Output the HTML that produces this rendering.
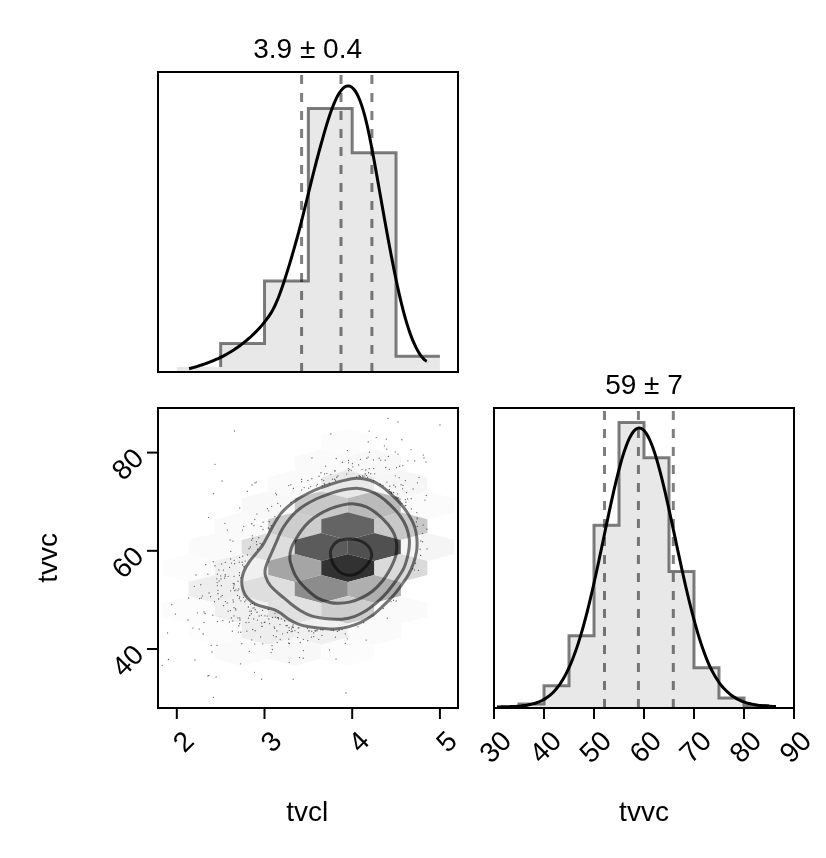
<!DOCTYPE html>
<html lang="en"><head><meta charset="utf-8"><title>corner plot</title>
<style>html,body{margin:0;padding:0;background:#fff}svg{display:block;will-change:transform}text{font-family:"Liberation Sans", Arial, Helvetica, sans-serif;font-size:28px;fill:#000}</style></head><body>
<svg width="826" height="858" viewBox="0 0 826 858">
<rect width="826" height="858" fill="#fff"/>
<defs>
<clipPath id="cTL"><rect x="158" y="72" width="300" height="300"/></clipPath>
<clipPath id="cBL"><rect x="158" y="408" width="300" height="300"/></clipPath>
<clipPath id="cBR"><rect x="494" y="408" width="300" height="300"/></clipPath>
</defs>
<g clip-path="url(#cTL)">
<path d="M176.8 372L176.8 367 L220.65 367L220.65 343.4 L264.5 343.4L264.5 280.9 L308.35 280.9L308.35 108.5 L352.2 108.5L352.2 152.7 L396.05 152.7L396.05 356.3 L439.9 356.3L439.9 372Z" fill="#e8e8e8"/>
<path d="M220.65 367L220.65 343.4 L264.5 343.4L264.5 280.9 L308.35 280.9L308.35 108.5 L352.2 108.5L352.2 152.7 L396.05 152.7L396.05 356.3 L439.9 356.3" fill="none" stroke="#000" stroke-opacity="0.5" stroke-width="3" stroke-linejoin="miter"/>
<line x1="301.6" y1="372" x2="301.6" y2="72" stroke="#000" stroke-opacity="0.5" stroke-width="3" stroke-dasharray="9 9"/>
<line x1="341" y1="372" x2="341" y2="72" stroke="#000" stroke-opacity="0.5" stroke-width="3" stroke-dasharray="9 9"/>
<line x1="371.9" y1="372" x2="371.9" y2="72" stroke="#000" stroke-opacity="0.5" stroke-width="3" stroke-dasharray="9 9"/>
<path d="M189.1 368.73C189.52 368.61 190.77 368.27 191.6 368.03C192.43 367.8 193.27 367.56 194.1 367.32C194.93 367.07 195.77 366.82 196.6 366.57C197.43 366.32 198.27 366.06 199.1 365.8C199.93 365.53 200.77 365.26 201.6 364.99C202.43 364.71 203.27 364.43 204.1 364.14C204.93 363.85 205.77 363.55 206.6 363.25C207.43 362.94 208.27 362.63 209.1 362.31C209.93 361.99 210.77 361.67 211.6 361.33C212.43 360.99 213.27 360.65 214.1 360.29C214.93 359.94 215.77 359.58 216.6 359.2C217.43 358.83 218.27 358.44 219.1 358.05C219.93 357.66 220.77 357.25 221.6 356.83C222.43 356.42 223.27 355.99 224.1 355.55C224.93 355.11 225.77 354.66 226.6 354.2C227.43 353.74 228.27 353.26 229.1 352.77C229.93 352.28 230.77 351.78 231.6 351.27C232.43 350.75 233.27 350.22 234.1 349.68C234.93 349.14 235.77 348.58 236.6 348.01C237.43 347.43 238.27 346.85 239.1 346.25C239.93 345.64 240.77 345.03 241.6 344.39C242.43 343.76 243.27 343.11 244.1 342.44C244.93 341.78 245.77 341.09 246.6 340.39C247.43 339.69 248.27 338.98 249.1 338.24C249.93 337.51 250.77 336.75 251.6 335.98C252.43 335.21 253.27 334.42 254.1 333.6C254.93 332.78 255.77 331.95 256.6 331.09C257.43 330.22 258.27 329.34 259.1 328.43C259.93 327.51 260.77 326.58 261.6 325.61C262.43 324.64 263.27 323.65 264.1 322.62C264.93 321.59 265.77 320.55 266.6 319.43C267.43 318.32 268.27 317.17 269.1 315.92C269.93 314.67 270.77 313.37 271.6 311.93C272.43 310.5 273.27 308.98 274.1 307.31C274.93 305.63 275.77 303.83 276.6 301.89C277.43 299.95 278.27 297.85 279.1 295.67C279.93 293.49 280.77 291.18 281.6 288.81C282.43 286.43 283.27 283.95 284.1 281.42C284.93 278.9 285.77 276.3 286.6 273.66C287.43 271.01 288.27 268.31 289.1 265.57C289.93 262.82 290.77 260.03 291.6 257.2C292.43 254.38 293.27 251.51 294.1 248.6C294.93 245.68 295.77 242.73 296.6 239.72C297.43 236.7 298.27 233.64 299.1 230.52C299.93 227.39 300.77 224.2 301.6 220.95C302.43 217.7 303.27 214.35 304.1 210.99C304.93 207.63 305.77 204.18 306.6 200.76C307.43 197.34 308.27 193.88 309.1 190.48C309.93 187.07 310.77 183.66 311.6 180.31C312.43 176.96 313.27 173.64 314.1 170.38C314.93 167.12 315.77 163.91 316.6 160.75C317.43 157.58 318.27 154.47 319.1 151.39C319.93 148.31 320.77 145.27 321.6 142.27C322.43 139.28 323.27 136.29 324.1 133.4C324.93 130.5 325.77 127.64 326.6 124.91C327.43 122.17 328.27 119.51 329.1 116.99C329.93 114.48 330.77 112.07 331.6 109.82C332.43 107.56 333.27 105.42 334.1 103.44C334.93 101.47 335.77 99.62 336.6 97.95C337.43 96.28 338.27 94.75 339.1 93.4C339.93 92.06 340.77 90.87 341.6 89.87C342.43 88.88 343.27 88.05 344.1 87.42C344.93 86.8 345.77 86.35 346.6 86.11C347.43 85.87 348.27 85.83 349.1 85.99C349.93 86.16 350.77 86.52 351.6 87.11C352.43 87.7 353.27 88.5 354.1 89.52C354.93 90.55 355.77 91.8 356.6 93.29C357.43 94.77 358.27 96.49 359.1 98.46C359.93 100.43 360.77 102.64 361.6 105.11C362.43 107.59 363.27 110.31 364.1 113.31C364.93 116.31 365.77 119.6 366.6 123.12C367.43 126.64 368.27 130.46 369.1 134.42C369.93 138.39 370.77 142.61 371.6 146.93C372.43 151.24 373.27 155.75 374.1 160.3C374.93 164.86 375.77 169.56 376.6 174.24C377.43 178.93 378.27 183.7 379.1 188.43C379.93 193.15 380.77 197.9 381.6 202.62C382.43 207.33 383.27 212.05 384.1 216.71C384.93 221.38 385.77 226.03 386.6 230.61C387.43 235.19 388.27 239.74 389.1 244.21C389.93 248.67 390.77 253.09 391.6 257.4C392.43 261.72 393.27 265.96 394.1 270.09C394.93 274.22 395.77 278.27 396.6 282.18C397.43 286.09 398.27 289.91 399.1 293.57C399.93 297.23 400.77 300.77 401.6 304.15C402.43 307.52 403.27 310.75 404.1 313.82C404.93 316.9 405.77 319.81 406.6 322.58C407.43 325.34 408.27 327.95 409.1 330.42C409.93 332.88 410.77 335.2 411.6 337.37C412.43 339.54 413.27 341.56 414.1 343.44C414.93 345.32 415.77 347.05 416.6 348.65C417.43 350.25 418.27 351.7 419.1 353.02C419.93 354.34 420.77 355.51 421.6 356.56C422.43 357.61 423.27 358.51 424.1 359.29C424.93 360.07 426.17 360.9 426.6 361.23C427.03 361.57 426.68 361.29 426.7 361.3" fill="none" stroke="#000" stroke-width="3" stroke-linejoin="round"/>
</g>
<g clip-path="url(#cBR)">
<path d="M519 708L519 704 L544 704L544 685.7 L569 685.7L569 635.7 L594 635.7L594 525.3 L619 525.3L619 422.4 L644 422.4L644 457.8 L669 457.8L669 571.5 L694 571.5L694 667.8 L719 667.8L719 698 L744 698L744 705.5 L769 705.5L769 708Z" fill="#e8e8e8"/>
<path d="M519 707L519 704 L544 704L544 685.7 L569 685.7L569 635.7 L594 635.7L594 525.3 L619 525.3L619 422.4 L644 422.4L644 457.8 L669 457.8L669 571.5 L694 571.5L694 667.8 L719 667.8L719 698 L744 698L744 705.5 L769 705.5" fill="none" stroke="#000" stroke-opacity="0.5" stroke-width="3" stroke-linejoin="miter"/>
<line x1="604.5" y1="708" x2="604.5" y2="408" stroke="#000" stroke-opacity="0.5" stroke-width="3" stroke-dasharray="9 9"/>
<line x1="638.4" y1="708" x2="638.4" y2="408" stroke="#000" stroke-opacity="0.5" stroke-width="3" stroke-dasharray="9 9"/>
<line x1="673.3" y1="708" x2="673.3" y2="408" stroke="#000" stroke-opacity="0.5" stroke-width="3" stroke-dasharray="9 9"/>
<path d="M497 706.91C497.5 706.91 499 706.89 500 706.88C501 706.86 502 706.85 503 706.83C504 706.81 505 706.79 506 706.76C507 706.74 508 706.71 509 706.67C510 706.64 511 706.6 512 706.56C513 706.51 514 706.46 515 706.4C516 706.34 517 706.28 518 706.2C519 706.12 520 706.03 521 705.93C522 705.83 523 705.72 524 705.59C525 705.46 526 705.31 527 705.15C528 704.98 529 704.8 530 704.58C531 704.37 532 704.14 533 703.87C534 703.61 535 703.32 536 702.98C537 702.65 538 702.29 539 701.88C540 701.47 541 701.02 542 700.52C543 700.01 544 699.46 545 698.85C546 698.23 547 697.57 548 696.83C549 696.08 550 695.28 551 694.39C552 693.5 553 692.54 554 691.49C555 690.43 556 689.29 557 688.05C558 686.8 559 685.47 560 684.02C561 682.56 562 681.01 563 679.32C564 677.64 565 675.85 566 673.91C567 671.98 568 669.93 569 667.73C570 665.53 571 663.2 572 660.72C573 658.24 574 655.62 575 652.85C576 650.08 577 647.16 578 644.09C579 641.02 580 637.81 581 634.44C582 631.08 583 627.57 584 623.91C585 620.26 586 616.46 587 612.54C588 608.62 589 604.55 590 600.37C591 596.2 592 591.89 593 587.51C594 583.12 595 578.61 596 574.04C597 569.48 598 564.81 599 560.12C600 555.43 601 550.66 602 545.9C603 541.14 604 536.33 605 531.57C606 526.8 607 522.02 608 517.33C609 512.63 610 507.95 611 503.4C612 498.85 613 494.34 614 490.01C615 485.68 616 481.44 617 477.4C618 473.36 619 469.46 620 465.79C621 462.13 622 458.63 623 455.41C624 452.19 625 449.18 626 446.46C627 443.75 628 441.28 629 439.13C630 436.98 631 435.1 632 433.56C633 432.01 634 430.77 635 429.87C636 428.96 637 428.38 638 428.13C639 427.89 640 427.98 641 428.39C642 428.79 643 429.53 644 430.57C645 431.61 646 432.98 647 434.64C648 436.29 649 438.27 650 440.5C651 442.73 652 445.27 653 448.04C654 450.81 655 453.86 656 457.11C657 460.36 658 463.86 659 467.53C660 471.2 661 475.09 662 479.1C663 483.12 664 487.33 665 491.62C666 495.91 667 500.36 668 504.85C669 509.35 670 513.97 671 518.59C672 523.22 673 527.92 674 532.61C675 537.29 676 542.02 677 546.7C678 551.38 679 556.07 680 560.67C681 565.28 682 569.87 683 574.35C684 578.84 685 583.27 686 587.59C687 591.9 688 596.14 689 600.24C690 604.35 691 608.35 692 612.22C693 616.08 694 619.83 695 623.43C696 627.03 697 630.51 698 633.83C699 637.15 700 640.34 701 643.38C702 646.42 703 649.31 704 652.06C705 654.81 706 657.44 707 659.89C708 662.34 709 664.64 710 666.76C711 668.88 712 670.77 713 672.61C714 674.44 715 676.14 716 677.75C717 679.36 718 680.86 719 682.26C720 683.67 721 684.96 722 686.18C723 687.4 724 688.52 725 689.57C726 690.62 727 691.58 728 692.47C729 693.37 730 694.19 731 694.96C732 695.72 733 696.41 734 697.06C735 697.71 736 698.29 737 698.84C738 699.38 739 699.87 740 700.33C741 700.78 742 701.19 743 701.57C744 701.95 745 702.29 746 702.6C747 702.91 748 703.19 749 703.45C750 703.71 751 703.94 752 704.15C753 704.36 754 704.55 755 704.72C756 704.89 757 705.05 758 705.19C759 705.33 760 705.45 761 705.56C762 705.67 763 705.77 764 705.86C765 705.95 766 706.03 767 706.11C768 706.18 769 706.24 770 706.3C771 706.36 772 706.41 773 706.45C774 706.5 775.5 706.55 776 706.58" fill="none" stroke="#000" stroke-width="3" stroke-linejoin="round"/>
</g>
<g clip-path="url(#cBL)">
<g shape-rendering="geometricPrecision">
<polygon points="347.8,428.5 374.34,435.48 374.34,449.43 347.8,456.4 321.26,449.43 321.26,435.48" fill="rgb(252,252,252)"/>
<polygon points="321.26,449.43 347.8,456.4 347.8,470.35 321.26,477.32 294.72,470.35 294.72,456.4" fill="rgb(250,250,250)"/>
<polygon points="374.34,449.43 400.88,456.4 400.88,470.35 374.34,477.32 347.8,470.35 347.8,456.4" fill="rgb(248,248,248)"/>
<polygon points="294.72,470.35 321.26,477.32 321.26,491.28 294.72,498.25 268.18,491.28 268.18,477.32" fill="rgb(250,250,250)"/>
<polygon points="347.8,470.35 374.34,477.32 374.34,491.28 347.8,498.25 321.26,491.28 321.26,477.32" fill="rgb(232,232,232)"/>
<polygon points="400.88,470.35 427.42,477.32 427.42,491.28 400.88,498.25 374.34,491.28 374.34,477.32" fill="rgb(246,246,246)"/>
<polygon points="268.18,491.28 294.72,498.25 294.72,512.2 268.18,519.18 241.64,512.2 241.64,498.25" fill="rgb(248,248,248)"/>
<polygon points="321.26,491.28 347.8,498.25 347.8,512.2 321.26,519.18 294.72,512.2 294.72,498.25" fill="rgb(200,200,200)"/>
<polygon points="374.34,491.28 400.88,498.25 400.88,512.2 374.34,519.18 347.8,512.2 347.8,498.25" fill="rgb(186,186,186)"/>
<polygon points="427.42,491.28 453.96,498.25 453.96,512.2 427.42,519.18 400.88,512.2 400.88,498.25" fill="rgb(251,251,251)"/>
<polygon points="241.64,512.2 268.18,519.17 268.18,533.12 241.64,540.1 215.1,533.12 215.1,519.17" fill="rgb(250,250,250)"/>
<polygon points="294.72,512.2 321.26,519.17 321.26,533.12 294.72,540.1 268.18,533.12 268.18,519.17" fill="rgb(205,205,205)"/>
<polygon points="347.8,512.2 374.34,519.17 374.34,533.12 347.8,540.1 321.26,533.12 321.26,519.17" fill="rgb(100,100,100)"/>
<polygon points="400.88,512.2 427.42,519.17 427.42,533.12 400.88,540.1 374.34,533.12 374.34,519.17" fill="rgb(200,200,200)"/>
<polygon points="215.1,533.12 241.64,540.1 241.64,554.05 215.1,561.03 188.56,554.05 188.56,540.1" fill="rgb(250,250,250)"/>
<polygon points="268.18,533.12 294.72,540.1 294.72,554.05 268.18,561.03 241.64,554.05 241.64,540.1" fill="rgb(222,222,222)"/>
<polygon points="321.26,533.12 347.8,540.1 347.8,554.05 321.26,561.03 294.72,554.05 294.72,540.1" fill="rgb(91,91,91)"/>
<polygon points="374.34,533.12 400.88,540.1 400.88,554.05 374.34,561.03 347.8,554.05 347.8,540.1" fill="rgb(80,80,80)"/>
<polygon points="427.42,533.12 453.96,540.1 453.96,554.05 427.42,561.03 400.88,554.05 400.88,540.1" fill="rgb(245,245,245)"/>
<polygon points="188.56,554.05 215.1,561.02 215.1,574.98 188.56,581.95 162.02,574.98 162.02,561.02" fill="rgb(252,252,252)"/>
<polygon points="241.64,554.05 268.18,561.02 268.18,574.98 241.64,581.95 215.1,574.98 215.1,561.02" fill="rgb(240,240,240)"/>
<polygon points="294.72,554.05 321.26,561.02 321.26,574.98 294.72,581.95 268.18,574.98 268.18,561.02" fill="rgb(165,165,165)"/>
<polygon points="347.8,554.05 374.34,561.02 374.34,574.98 347.8,581.95 321.26,574.98 321.26,561.02" fill="rgb(50,50,50)"/>
<polygon points="400.88,554.05 427.42,561.02 427.42,574.98 400.88,581.95 374.34,574.98 374.34,561.02" fill="rgb(218,218,218)"/>
<polygon points="215.1,574.97 241.64,581.95 241.64,595.9 215.1,602.88 188.56,595.9 188.56,581.95" fill="rgb(238,238,238)"/>
<polygon points="268.18,574.97 294.72,581.95 294.72,595.9 268.18,602.88 241.64,595.9 241.64,581.95" fill="rgb(222,222,222)"/>
<polygon points="321.26,574.97 347.8,581.95 347.8,595.9 321.26,602.88 294.72,595.9 294.72,581.95" fill="rgb(140,140,140)"/>
<polygon points="374.34,574.97 400.88,581.95 400.88,595.9 374.34,602.88 347.8,595.9 347.8,581.95" fill="rgb(175,175,175)"/>
<polygon points="188.56,595.9 215.1,602.88 215.1,616.83 188.56,623.8 162.02,616.83 162.02,602.88" fill="rgb(252,252,252)"/>
<polygon points="241.64,595.9 268.18,602.88 268.18,616.83 241.64,623.8 215.1,616.83 215.1,602.88" fill="rgb(240,240,240)"/>
<polygon points="294.72,595.9 321.26,602.88 321.26,616.83 294.72,623.8 268.18,616.83 268.18,602.88" fill="rgb(225,225,225)"/>
<polygon points="347.8,595.9 374.34,602.88 374.34,616.83 347.8,623.8 321.26,616.83 321.26,602.88" fill="rgb(205,205,205)"/>
<polygon points="400.88,595.9 427.42,602.88 427.42,616.83 400.88,623.8 374.34,616.83 374.34,602.88" fill="rgb(250,250,250)"/>
<polygon points="215.1,616.82 241.64,623.8 241.64,637.75 215.1,644.73 188.56,637.75 188.56,623.8" fill="rgb(252,252,252)"/>
<polygon points="268.18,616.82 294.72,623.8 294.72,637.75 268.18,644.73 241.64,637.75 241.64,623.8" fill="rgb(238,238,238)"/>
<polygon points="321.26,616.82 347.8,623.8 347.8,637.75 321.26,644.73 294.72,637.75 294.72,623.8" fill="rgb(240,240,240)"/>
<polygon points="374.34,616.82 400.88,623.8 400.88,637.75 374.34,644.73 347.8,637.75 347.8,623.8" fill="rgb(250,250,250)"/>
<polygon points="241.64,637.75 268.18,644.73 268.18,658.68 241.64,665.65 215.1,658.68 215.1,644.73" fill="rgb(250,250,250)"/>
<polygon points="294.72,637.75 321.26,644.73 321.26,658.68 294.72,665.65 268.18,658.68 268.18,644.73" fill="rgb(248,248,248)"/>
<polygon points="347.8,637.75 374.34,644.73 374.34,658.68 347.8,665.65 321.26,658.68 321.26,644.73" fill="rgb(252,252,252)"/>
</g>
<path d="M228.06 611.16h0M313.71 632.93h0M366.21 640.09h0M217.13 582.54h0M288.76 485.61h0M330.86 474.28h0M370.76 473.75h0M286.13 625.72h0M411.22 498.72h0M247.31 491.41h0M299.57 657.59h0M284.89 621.12h0M242.1 562.25h0M358.98 475.97h0M278.45 618.91h0M249.81 611.25h0M261.69 622.97h0M215.01 464.32h0M252.19 603.33h0M261.03 526.47h0M290.91 502.46h0M162.22 665.33h0M248.46 618.18h0M264.4 622.47h0M337.94 475.89h0M240.76 632.26h0M255.13 630.75h0M373.83 468.51h0M349.73 469.33h0M348.63 470.54h0M244.17 566.3h0M315.14 630.41h0M426.93 529.19h0M329.22 483.06h0M348.5 460.5h0M232.74 620.93h0M209 675.34h0M207.89 574.21h0M284.62 620.3h0M316.85 630.74h0M211.18 645.34h0M221.07 578.89h0M230.41 610.61h0M204.01 622.46h0M256.75 544.72h0M335.3 470.92h0M386.3 439.22h0M264.95 615.8h0M363.79 622.77h0M224.67 578.21h0M271.17 525.69h0M245.9 600.07h0M201.39 598.03h0M396.17 600.99h0M282.61 633.86h0M307.86 480.43h0M274.62 628.31h0M289.24 662.41h0M241.79 643.7h0M223.49 570.03h0M405.88 505.55h0M397.57 493.96h0M240 620h0M329.54 649.88h0M220.96 596.84h0M257.54 549.16h0M336.06 659.08h0M175.39 614.08h0M225.32 574.67h0M225.43 601.57h0M311.85 478.77h0M233.7 587.07h0M399.15 477.65h0M274.9 613.31h0M239.75 507.96h0M231.52 563.05h0M256.94 514.03h0M365.82 470.01h0M292.17 627.01h0M352.87 466.78h0M200.76 584.75h0M316.98 629.89h0M203.13 634.02h0M245.16 561.08h0M322.83 630.02h0M254.07 607.87h0M231.44 617.9h0M234.48 583.83h0M386.78 449.13h0M234.19 560.36h0M188.75 598h0M292.44 631.16h0M307.82 640.65h0M358.61 464.96h0M362 469.6h0M274.85 516.61h0M293.08 624.97h0M324.27 483.6h0M426.25 495.52h0M298.28 632.65h0M411.43 508.92h0M391.09 601.58h0M249.75 615.52h0M261.63 679.14h0M288.77 639.15h0M269.13 521.77h0M308.66 630.9h0M276.86 630.9h0M380.66 460.04h0M238.82 625.75h0M365.27 474.01h0M249.26 651.43h0M233.44 588.31h0M360.37 476.69h0M253.63 619.01h0M224.95 523.36h0M217.02 645.4h0M230.67 559.01h0M243.72 526.34h0M277.47 617.59h0M417.29 526.46h0M310.74 486.62h0M267.31 616.1h0M229.56 567.29h0M234.62 563.75h0M240.93 600.8h0M199.6 598.56h0M313.7 636.58h0M420.61 555.44h0M275.45 617.16h0M315.05 630.55h0M368.58 472.74h0M423.31 455.09h0M337.4 631.42h0M257.47 620.07h0M359.81 476.35h0M324.56 473.9h0M233.34 601.94h0M240.61 663.85h0M271.08 652.58h0M274.21 626.98h0M390.15 491.68h0M414.79 460.89h0M417.43 482.78h0M402.02 503.31h0M382.98 485.35h0M217.42 574.17h0M217.42 621.54h0M260.58 636.89h0M405.39 499.56h0M351.24 470.33h0M416.79 512.57h0M357.93 626.84h0M395.39 486.89h0M373.73 480.6h0M217.94 590.28h0M214.51 601.63h0M252.31 535.8h0M388.07 418.47h0M326.95 473.31h0M407.54 498.93h0M395.26 451.91h0M405.4 480.58h0M334.66 479.27h0M268.32 528.02h0M385.25 460.16h0M301.67 479.44h0M221.69 563.98h0M277.85 503.41h0M287.32 632.52h0M218.79 569.96h0M348.27 468.72h0M391.71 492.36h0M366.54 475.37h0M260.15 543.29h0M415.55 563.23h0M221.41 585.72h0M300.27 642.52h0M407.89 460.86h0M374.7 473.83h0M271.66 506.34h0M417.22 517.78h0M235.92 589.79h0M246.85 631.16h0M406.52 492.66h0M205.68 564.61h0M197.4 612.8h0M255.33 609.64h0M391.57 492.52h0M293.33 627.6h0M272.4 617.38h0M393.8 485.21h0M205.12 613.48h0M209.03 593.02h0M424.98 500.1h0M276.13 636.73h0M213.23 561.66h0M239.55 557.42h0M338.84 630.57h0M321.91 635.4h0M275.68 493.06h0M240.94 577.79h0M256.44 541.76h0M194.36 586.32h0M222.31 595.42h0M251.31 613.76h0M321.76 479.68h0M420.13 549.25h0M219.1 580.91h0M217.37 585.57h0M401.07 484.65h0M333.23 630.49h0M336.21 458.49h0M388.28 456.41h0M387.29 618.16h0M416.41 521.91h0M342.1 629.62h0M171.81 604.68h0M420.75 540.98h0M212.84 615.21h0M280.22 639.62h0M325.71 466.22h0M237.99 617.88h0M272 645.72h0M401.84 439.73h0M319 476.25h0M232.35 631.19h0M279.99 624.56h0M334.57 470.95h0M336.77 477.23h0M346.72 474.11h0M273.45 635.62h0M218.7 599h0M411.08 449.54h0M239.65 623.71h0M254.81 519.56h0M239.45 572.65h0M366.9 458.27h0M223.62 605.66h0M238.02 581.24h0M230.11 540.02h0M307.42 628.55h0M291.3 631.63h0M396.46 467.65h0M301.7 489.92h0M385.75 467.52h0M368.19 457.03h0M239.29 562.14h0M413.11 489.01h0M297.66 637.55h0M419.06 477.46h0M167.57 632.89h0M237.91 590.54h0M237.51 595.39h0M386.96 482.1h0M301.64 481.7h0M234.63 590.63h0M220.73 575.89h0M287.13 625.49h0M405.23 505.33h0M317.37 484.36h0M304.13 487.56h0M384.41 445.83h0M242.68 564.99h0M238.78 588.96h0M235.61 608.57h0M228.16 576.29h0M303.26 658.13h0M303.43 650.57h0M376.22 437.54h0M243.4 597.36h0M373.49 459.91h0M347.2 638.79h0M216.1 677.02h0M232.96 541.22h0M348.49 462.8h0M168.41 659.51h0M427.1 548.95h0M263.16 522.21h0M253.95 525.69h0M417.2 518.87h0M263 529.52h0M276.45 494.76h0M250.33 547.01h0M265.01 622.1h0M210.55 596.63h0M214.98 565.77h0M218.01 593.73h0M259.19 615.98h0M202.45 595.89h0M294.91 630.66h0M239.17 598.51h0M254.96 482.97h0M262.75 643.86h0M261.73 626.19h0M320.96 472.75h0M248.37 606.98h0M269.56 623.72h0M268.79 510.87h0M281.47 618.85h0M389.75 486.21h0M356.42 477.07h0M347.43 450.55h0M268.14 609.5h0M369.47 452.22h0M291.61 628.9h0M225.05 576.26h0M249.05 548.75h0M256.96 612.44h0M383.25 608.42h0M331.11 630.12h0M311.69 631.13h0M251.7 540.16h0M233.18 583.47h0M288.57 643.11h0M234.02 576.36h0M250.59 604.14h0M234.04 615.96h0M252.69 538.44h0M272.32 649.48h0M227.3 530.12h0M397.33 498.18h0M254.48 672.31h0M258.78 537.76h0M308.63 488.14h0M402.57 488.86h0M422.69 541.71h0M233.98 607.67h0M318.7 639.29h0M352.43 463.66h0M342.41 462.26h0M380.17 484.25h0M247.5 554.92h0M233.03 599.92h0M293.37 488.46h0M239.48 575.48h0M403.07 485.45h0M261.59 544.09h0M290.83 484.8h0M298.94 627.68h0M252.68 629.5h0M213.37 697.37h0M251.72 523.77h0M235.86 610.02h0M242.73 556.21h0M368.22 441.92h0M311.94 457.96h0M335.45 637.17h0M239.59 596.93h0M320.85 629.65h0M257.15 612.12h0M222.85 620.56h0M230.62 590.83h0M311.49 637.09h0M379.13 458.17h0M280.54 505.98h0M289.44 643.52h0M216.73 578.81h0M402.8 465.7h0M277.25 642.58h0M335.59 480.29h0M362.51 476.02h0M261.42 615.31h0M262.2 626.39h0M345.29 633.9h0M309.35 630.8h0M256.27 482.16h0M393.53 600.26h0M278.41 617.76h0M303.31 639.37h0M267.45 508.67h0M298.16 628.06h0M208.48 517.36h0M369.31 468.65h0M292.9 626.79h0M316.33 485.81h0M253 608.1h0M395.26 475.79h0M389.28 489.76h0M289.38 630.43h0M393.66 492.5h0M398.18 497.93h0M315.31 631.18h0M246.02 622.51h0M369.14 431.06h0M324.81 484.56h0M360.42 459.31h0M396.16 496.89h0M359.24 475.54h0M412.66 568.63h0M238.32 632.1h0M239.75 617.93h0M230.78 551.39h0M268.86 618.99h0M345.24 643.46h0M414.48 570.04h0M398 454.16h0M227.22 602.94h0M251.4 611.01h0M367.5 477.33h0M289.02 627.68h0M262.55 610.29h0M192.94 628.1h0M242.4 530.04h0M225.3 562.41h0M332.52 479.13h0M254.56 604.92h0M254.77 644.05h0M389.42 469.33h0M229.42 622h0M422.48 533.31h0M405.92 502.24h0M364.04 476.12h0M293.23 679.14h0M323.66 480.56h0M248.96 622.29h0M399.66 466.26h0M339.19 630.24h0M243.88 566.96h0M199.2 629.05h0M213.69 493.65h0M418.44 570.36h0M423.25 525.04h0M244.78 601.7h0M391.6 493.26h0M269.26 528.82h0M233.99 584.96h0M322.16 485.82h0M251.76 639.97h0M330.85 434.01h0M234.5 431h0M398 422h0M440 425h0M222 481h0M252 485h0M346 693h0M208 676h0M195 660h0M212 652h0M196 575h0M188 620h0M204 612h0M424 458h0M426 462h0" fill="none" stroke="#000" stroke-opacity="0.62" stroke-width="1.3" stroke-linecap="round"/>
<path d="M244.5 570C245.82 567.17 248.08 563.55 250 560.8C251.92 558.05 253.88 556.12 256 553.5C258.12 550.88 260.58 548.32 262.7 545.1C264.82 541.88 266.78 537.73 268.7 534.2C270.62 530.67 272.18 527.33 274.2 523.9C276.22 520.47 278.48 516.53 280.8 513.6C283.12 510.67 285.27 508.72 288.1 506.3C290.93 503.88 294.37 501.32 297.8 499.1C301.23 496.88 305.07 494.82 308.7 493C312.33 491.18 316.05 489.62 319.6 488.2C323.15 486.78 326.25 485.72 330 484.5C333.75 483.28 337.67 481.95 342.1 480.9C346.53 479.85 351.95 478.3 356.6 478.2C361.25 478.1 365.97 479.05 370 480.3C374.03 481.55 377.38 483.48 380.8 485.7C384.22 487.92 387.27 490.67 390.5 493.6C393.73 496.53 397.17 499.77 400.2 503.3C403.23 506.83 406.28 510.87 408.7 514.8C411.12 518.73 413.33 522.87 414.7 526.9C416.07 530.93 416.58 534.97 416.9 539C417.22 543.03 417.17 547.07 416.6 551.1C416.03 555.13 414.82 559.35 413.5 563.2C412.18 567.05 410.72 570.55 408.7 574.2C406.68 577.85 404.02 581.47 401.4 585.1C398.78 588.73 396.02 592.57 393 596C389.98 599.43 386.73 602.47 383.3 605.7C379.87 608.93 376.23 612.58 372.4 615.4C368.57 618.22 364.33 620.68 360.3 622.6C356.27 624.52 352.03 625.88 348.2 626.9C344.37 627.92 340.33 628.37 337.3 628.7C334.27 629.03 333.15 629 330 628.9C326.85 628.8 322.15 628.5 318.4 628.1C314.65 627.7 310.93 627.22 307.5 626.5C304.07 625.78 300.83 624.95 297.8 623.8C294.77 622.65 291.92 621.2 289.3 619.6C286.68 618 284.52 615.82 282.1 614.2C279.68 612.58 277.43 611.02 274.8 609.9C272.17 608.78 269.13 608.3 266.3 607.5C263.47 606.7 260.42 606.22 257.8 605.1C255.18 603.98 252.72 602.52 250.6 600.8C248.48 599.08 246.52 597.22 245.1 594.8C243.68 592.38 242.6 589.13 242.1 586.3C241.6 583.47 241.7 580.52 242.1 577.8C242.5 575.08 243.18 572.83 244.5 570Z" fill="none" stroke="#000" stroke-opacity="0.53" stroke-width="3" stroke-linejoin="round"/>
<path d="M265.1 570C265.4 567.57 266.38 564.95 267.5 562C268.62 559.05 270.28 555.73 271.8 552.3C273.32 548.87 275.1 544.83 276.6 541.4C278.1 537.97 279.08 534.92 280.8 531.7C282.52 528.48 284.47 525.32 286.9 522.1C289.33 518.88 292.37 515.23 295.4 512.4C298.43 509.57 301.47 507.42 305.1 505.1C308.73 502.78 313.05 500.42 317.2 498.5C321.35 496.58 325.85 495.02 330 493.6C334.15 492.18 337.67 490.9 342.1 490C346.53 489.1 352.17 488.1 356.6 488.2C361.03 488.3 364.87 489.3 368.7 490.6C372.53 491.9 375.97 493.58 379.6 496C383.23 498.42 387.07 501.77 390.5 505.1C393.93 508.43 397.57 512.37 400.2 516C402.83 519.63 404.78 523.07 406.3 526.9C407.82 530.73 408.9 534.97 409.3 539C409.7 543.03 409.3 547.07 408.7 551.1C408.1 555.13 406.72 559.95 405.7 563.2C404.68 566.45 404.32 567.55 402.6 570.6C400.88 573.65 398.02 577.87 395.4 581.5C392.78 585.13 389.93 588.97 386.9 592.4C383.87 595.83 380.63 599.08 377.2 602.1C373.77 605.12 370.13 608.08 366.3 610.5C362.47 612.92 358.23 615.15 354.2 616.6C350.17 618.05 346.13 618.8 342.1 619.2C338.07 619.6 333.75 619.23 330 619C326.25 618.77 322.95 618.4 319.6 617.8C316.25 617.2 313.13 616.62 309.9 615.4C306.67 614.18 303.23 612.32 300.2 610.5C297.17 608.68 294.32 606.52 291.7 604.5C289.08 602.48 286.92 600.42 284.5 598.4C282.08 596.38 279.62 594.62 277.2 592.4C274.78 590.18 271.92 587.73 270 585.1C268.08 582.47 266.52 579.12 265.7 576.6C264.88 574.08 264.8 572.43 265.1 570Z" fill="none" stroke="#000" stroke-opacity="0.53" stroke-width="3" stroke-linejoin="round"/>
<path d="M293 570C292.08 567.37 290.22 563.15 289.9 559.6C289.58 556.05 290.08 552.13 291.1 548.7C292.12 545.27 294.28 542.03 296 539C297.72 535.97 299.28 533.32 301.4 530.5C303.52 527.68 305.87 524.72 308.7 522.1C311.53 519.48 314.85 517 318.4 514.8C321.95 512.6 326.05 510.52 330 508.9C333.95 507.28 338.07 505.93 342.1 505.1C346.13 504.27 350.17 503.6 354.2 503.9C358.23 504.2 362.27 505.08 366.3 506.9C370.33 508.72 374.77 511.87 378.4 514.8C382.03 517.73 385.47 521.27 388.1 524.5C390.73 527.73 392.78 530.98 394.2 534.2C395.62 537.42 396.3 540.38 396.6 543.8C396.9 547.22 396.6 551.47 396 554.7C395.4 557.93 394.12 560.55 393 563.2C391.88 565.85 391.12 567.55 389.3 570.6C387.48 573.65 384.92 578.07 382.1 581.5C379.28 584.93 375.83 588.48 372.4 591.2C368.97 593.92 365.33 595.98 361.5 597.8C357.67 599.62 353.23 601.18 349.4 602.1C345.57 603.02 341.73 603.23 338.5 603.3C335.27 603.37 333.55 603.42 330 602.5C326.45 601.58 320.75 599.68 317.2 597.8C313.65 595.92 311.33 593.52 308.7 591.2C306.07 588.88 303.62 586.53 301.4 583.9C299.18 581.27 296.8 577.72 295.4 575.4C294 573.08 293.92 572.63 293 570Z" fill="none" stroke="#000" stroke-opacity="0.53" stroke-width="3" stroke-linejoin="round"/>
<path d="M330.4 553.5C330.4 551.33 330.65 549.48 331.8 547.5C332.95 545.52 335.35 542.93 337.3 541.6C339.25 540.27 341.28 539.93 343.5 539.5C345.72 539.07 348.35 538.93 350.6 539C352.85 539.07 354.98 539.4 357 539.9C359.02 540.4 361.03 541.15 362.7 542C364.37 542.85 365.78 543.88 367 545C368.22 546.12 369.2 547.08 370 548.7C370.8 550.32 371.7 552.9 371.8 554.7C371.9 556.5 371.52 557.67 370.6 559.5C369.68 561.33 368.22 563.55 366.3 565.7C364.38 567.85 361.72 570.8 359.1 572.4C356.48 574 353.43 575.12 350.6 575.3C347.77 575.48 344.63 574.78 342.1 573.5C339.57 572.22 337.12 569.77 335.4 567.6C333.68 565.43 332.63 562.85 331.8 560.5C330.97 558.15 330.4 555.67 330.4 553.5Z" fill="none" stroke="#000" stroke-opacity="0.53" stroke-width="3" stroke-linejoin="round"/>
</g>
<rect x="158" y="72" width="300" height="300" fill="none" stroke="#000" stroke-width="2"/>
<rect x="158" y="408" width="300" height="300" fill="none" stroke="#000" stroke-width="2"/>
<rect x="494" y="408" width="300" height="300" fill="none" stroke="#000" stroke-width="2"/>
<line x1="176.8" y1="709" x2="176.8" y2="719" stroke="#000" stroke-width="2"/>
<text transform="translate(183 741.2) rotate(-45)" x="0" y="10" text-anchor="middle">2</text>
<line x1="264.5" y1="709" x2="264.5" y2="719" stroke="#000" stroke-width="2"/>
<text transform="translate(270.7 741.2) rotate(-45)" x="0" y="10" text-anchor="middle">3</text>
<line x1="352.2" y1="709" x2="352.2" y2="719" stroke="#000" stroke-width="2"/>
<text transform="translate(358.4 741.2) rotate(-45)" x="0" y="10" text-anchor="middle">4</text>
<line x1="439.9" y1="709" x2="439.9" y2="719" stroke="#000" stroke-width="2"/>
<text transform="translate(446.1 741.2) rotate(-45)" x="0" y="10" text-anchor="middle">5</text>
<line x1="494" y1="709" x2="494" y2="719" stroke="#000" stroke-width="2"/>
<text transform="translate(495 746.5) rotate(-45)" x="0" y="10" text-anchor="middle">30</text>
<line x1="544" y1="709" x2="544" y2="719" stroke="#000" stroke-width="2"/>
<text transform="translate(545 746.5) rotate(-45)" x="0" y="10" text-anchor="middle">40</text>
<line x1="594" y1="709" x2="594" y2="719" stroke="#000" stroke-width="2"/>
<text transform="translate(595 746.5) rotate(-45)" x="0" y="10" text-anchor="middle">50</text>
<line x1="644" y1="709" x2="644" y2="719" stroke="#000" stroke-width="2"/>
<text transform="translate(645 746.5) rotate(-45)" x="0" y="10" text-anchor="middle">60</text>
<line x1="694" y1="709" x2="694" y2="719" stroke="#000" stroke-width="2"/>
<text transform="translate(695 746.5) rotate(-45)" x="0" y="10" text-anchor="middle">70</text>
<line x1="744" y1="709" x2="744" y2="719" stroke="#000" stroke-width="2"/>
<text transform="translate(745 746.5) rotate(-45)" x="0" y="10" text-anchor="middle">80</text>
<line x1="794" y1="709" x2="794" y2="719" stroke="#000" stroke-width="2"/>
<text transform="translate(795 746.5) rotate(-45)" x="0" y="10" text-anchor="middle">90</text>
<line x1="147" y1="452.6" x2="157" y2="452.6" stroke="#000" stroke-width="2"/>
<text transform="translate(127.1 463.7) rotate(-45)" x="0" y="10" text-anchor="middle">80</text>
<line x1="147" y1="550.8" x2="157" y2="550.8" stroke="#000" stroke-width="2"/>
<text transform="translate(127.1 561.9) rotate(-45)" x="0" y="10" text-anchor="middle">60</text>
<line x1="147" y1="649" x2="157" y2="649" stroke="#000" stroke-width="2"/>
<text transform="translate(127.1 660.1) rotate(-45)" x="0" y="10" text-anchor="middle">40</text>
<text x="307.6" y="58" text-anchor="middle">3.9 ± 0.4</text>
<text x="644" y="394" text-anchor="middle">59 ± 7</text>
<text x="307.3" y="821.4" text-anchor="middle">tvcl</text>
<text x="644" y="821.4" text-anchor="middle">tvvc</text>
<text transform="translate(57.2 557.8) rotate(-90)" x="0" y="0" text-anchor="middle">tvvc</text>
</svg></body></html>
